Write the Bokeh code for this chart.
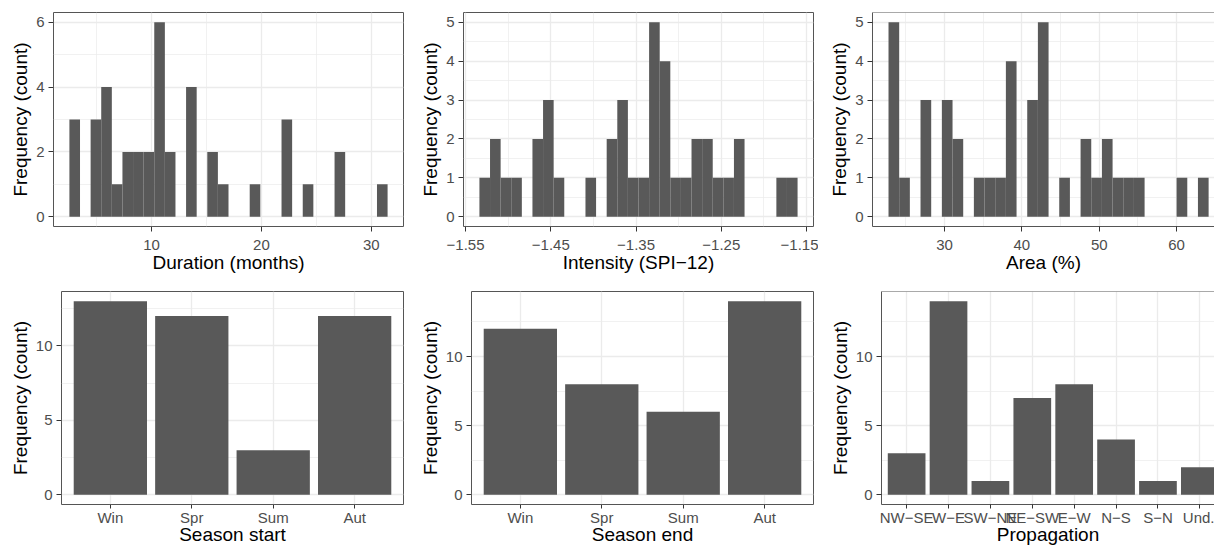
from bokeh.plotting import figure
from bokeh.layouts import row, column
from bokeh.models import Range1d, FixedTicker, CustomJSTickFormatter, Span
from bokeh.embed import file_html
from bokeh.resources import INLINE

FONT = "Liberation Sans"
BAR = "#595959"
GRID = "#EBEBEB"
BORDER = "#333333"
FRAME = "#555555"

# ---------------- data ----------------
# histograms: 30 bins, first bin centred on min, last on max (ggplot default)
duration_min, duration_max = 3.0, 31.0
duration_counts = [3, 0, 3, 4, 1, 2, 2, 2, 6, 2, 0, 4, 0, 2, 1,
                   0, 0, 1, 0, 0, 3, 0, 1, 0, 0, 2, 0, 0, 0, 1]

intensity_min, intensity_max = -1.5275, -1.1667
intensity_counts = [1, 2, 1, 1, 0, 2, 3, 1, 0, 0, 1, 0, 2, 3, 1,
                    1, 5, 4, 1, 1, 2, 2, 1, 1, 2, 0, 0, 0, 1, 1]

area_min, area_max = 23.45, 63.45
area_counts = [5, 1, 0, 3, 0, 3, 2, 0, 1, 1, 1, 4, 0, 3, 5,
               0, 1, 0, 2, 1, 2, 1, 1, 1, 0, 0, 0, 1, 0, 1]

season_labels = ["Win", "Spr", "Sum", "Aut"]
season_start_counts = [13, 12, 3, 12]
season_end_counts = [12, 8, 6, 14]

propagation_labels = ["NW\u2212SE", "W\u2212E", "SW\u2212NE", "NE\u2212SW",
                      "E\u2212W", "N\u2212S", "S\u2212N", "Und."]
propagation_counts = [3, 14, 1, 7, 8, 4, 1, 2]

duration_ticks = [10, 20, 30]
duration_minor = [5, 15, 25]
intensity_ticks = [-1.55, -1.45, -1.35, -1.25, -1.15]
intensity_minor = [-1.5, -1.4, -1.3, -1.2]
area_ticks = [30, 40, 50, 60]
area_minor = [25, 35, 45, 55]


def style_axis(ax):
    ax.axis_line_color = None
    ax.major_tick_line_color = BORDER
    ax.major_tick_line_width = 1
    ax.major_tick_out = 5
    ax.major_tick_in = 0
    ax.minor_tick_line_color = None
    ax.major_label_text_font = FONT
    ax.major_label_text_font_size = "15px"
    ax.major_label_text_color = "#4D4D4D"
    ax.major_label_standoff = 4
    ax.axis_label_text_font = FONT
    ax.axis_label_text_font_size = "19px"
    ax.axis_label_text_font_style = "normal"
    ax.axis_label_text_color = "black"
    ax.axis_label_standoff = 2


def make_fig(width, height, xr, yr, mb, xticks, xminor, yticks, yminor,
             xlabel, open_right=False):
    p = figure(width=width, height=height, x_range=Range1d(*xr), y_range=Range1d(*yr),
               output_backend="svg", toolbar_location=None, tools="")
    p.min_border_left, p.min_border_right, p.min_border_top, p.min_border_bottom = mb
    p.background_fill_color = "white"
    p.border_fill_color = "white"
    xt = FixedTicker(ticks=xticks, minor_ticks=xminor)
    yt = FixedTicker(ticks=yticks, minor_ticks=yminor)
    p.xaxis.ticker = xt
    p.yaxis.ticker = yt
    p.xgrid.ticker = xt
    p.ygrid.ticker = yt
    p.grid.grid_line_color = GRID
    p.grid.grid_line_width = 1.3
    p.grid.minor_grid_line_color = GRID
    p.grid.minor_grid_line_width = 0.7
    style_axis(p.xaxis[0])
    style_axis(p.yaxis[0])
    p.yaxis.axis_label = "Frequency (count)"
    p.xaxis.axis_label = xlabel
    if open_right:
        p.outline_line_color = None
        p.xaxis.axis_line_color = FRAME
        p.yaxis.axis_line_color = FRAME
        p.add_layout(Span(location=yr[1], dimension="width",
                          line_color=FRAME, line_width=1))
    else:
        p.outline_line_color = FRAME
        p.outline_line_width = 1
    return p


def add_hist(p, vmin, vmax, counts):
    n = len(counts)
    w = (vmax - vmin) / (n - 1)
    left, right, top = [], [], []
    for k, c in enumerate(counts):
        if c > 0:
            cx = vmin + k * w
            left.append(cx - w / 2)
            right.append(cx + w / 2)
            top.append(c)
    p.quad(left=left, right=right, bottom=0, top=top,
           fill_color=BAR, line_color=None)
    p.xaxis.major_label_standoff = 8
    p.xaxis.axis_label_standoff = -1


def add_bars(p, labels, counts):
    xs = list(range(1, len(labels) + 1))
    p.vbar(x=xs, top=counts, width=0.9, bottom=0, fill_color=BAR, line_color=None)
    p.xaxis.formatter = CustomJSTickFormatter(
        args=dict(cats=labels), code="return cats[Math.round(tick) - 1] || '';")
    p.xaxis.major_tick_out = 4
    p.xaxis.major_label_standoff = 0
    p.xaxis.axis_label_standoff = -5


H1, H2 = 283, 264

p1 = make_fig(410, H1, (1.069, 32.931), (-0.3, 6.3), (53, 7, 12, 57),
              duration_ticks, duration_minor, [0, 2, 4, 6], [1, 3, 5],
              "Duration (months)")
add_hist(p1, duration_min, duration_max, duration_counts)

p2 = make_fig(408, H1, (-1.5524, -1.1418), (-0.25, 5.25), (53, 5, 12, 57),
              intensity_ticks, intensity_minor, [0, 1, 2, 3, 4, 5],
              [0.5, 1.5, 2.5, 3.5, 4.5], "Intensity (SPI\u221212)")
p2.xaxis.formatter = CustomJSTickFormatter(
    code="return tick.toFixed(2).replace('-', '\u2212');")
add_hist(p2, intensity_min, intensity_max, intensity_counts)

p3 = make_fig(396, H1, (20.69, 64.9), (-0.25, 5.25), (54, 0, 12, 57),
              area_ticks, area_minor, [0, 1, 2, 3, 4, 5],
              [0.5, 1.5, 2.5, 3.5, 4.5], "Area (%)", open_right=True)
add_hist(p3, area_min, area_max, area_counts)

p4 = make_fig(410, H2, (0.4, 4.6), (-0.65, 13.65), (61, 7, 8, 42),
              [1, 2, 3, 4], [], [0, 5, 10], [2.5, 7.5, 12.5], "Season start")
add_bars(p4, season_labels, season_start_counts)

p5 = make_fig(408, H2, (0.4, 4.6), (-0.7, 14.7), (61, 5, 8, 42),
              [1, 2, 3, 4], [], [0, 5, 10], [2.5, 7.5, 12.5], "Season end")
add_bars(p5, season_labels, season_end_counts)

p6 = make_fig(396, H2, (0.4, 8.35), (-0.7, 14.7), (63, 0, 8, 42),
              list(range(1, 9)), [], [0, 5, 10], [2.5, 7.5, 12.5], "Propagation",
              open_right=True)
add_bars(p6, propagation_labels, propagation_counts)

layout = column(row(p1, p2, p3), row(p4, p5, p6))

open("out.html", "w").write(file_html(layout, INLINE))
